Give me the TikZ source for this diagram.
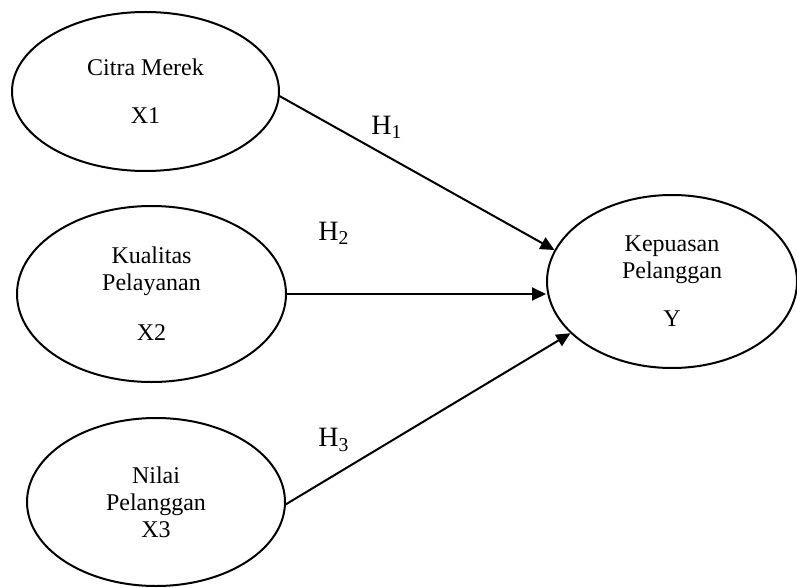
\documentclass[tikz,border=0pt]{standalone}
\usepackage{fontspec}
\setmainfont{Liberation Serif}
\usetikzlibrary{shapes.geometric,arrows.meta}
\tikzset{
    konstruk/.style={draw, ellipse, line width=1pt, align=center, inner sep=0pt,
        font=\fontsize{12}{13.5}\selectfont},
    jalur/.style={line width=1pt, -{Triangle[length=7pt,width=6.5pt]}},
    hipo/.style={font=\fontsize{14}{16}\selectfont}
}
\begin{document}
\begin{tikzpicture}[x=0.5pt, y=-0.5pt]
    \useasboundingbox (0,0) rectangle (797,588);
    \node[konstruk, minimum width=133.5pt, minimum height=79.5pt] (x1) at (145.5,91.5) {Citra Merek\\[10.5pt]X1};
    \node[konstruk, minimum width=134.5pt, minimum height=88pt] (x2) at (151.5,294) {Kualitas\\Pelayanan\\[11.5pt]X2};
    \node[konstruk, minimum width=129pt, minimum height=84pt] (x3) at (156,502) {Nilai\\Pelanggan\\X3};
    \node[konstruk, minimum width=125pt, minimum height=86.5pt] (y) at (672,281.5) {Kepuasan\\Pelanggan\\[10.5pt]Y};
    \node[hipo] (h1) at (387,127) {H\textsubscript{1}};
    \node[hipo] (h2) at (334,233) {H\textsubscript{2}};
    \node[hipo] (h3) at (334,440) {H\textsubscript{3}};
    \draw [jalur] (x1.-2) -- (y.165);
    \draw [jalur] (x2.east) -- (x2.east -| y.west);
    \draw [jalur] (x3.-1) -- (y.207);
\end{tikzpicture}
\end{document}
